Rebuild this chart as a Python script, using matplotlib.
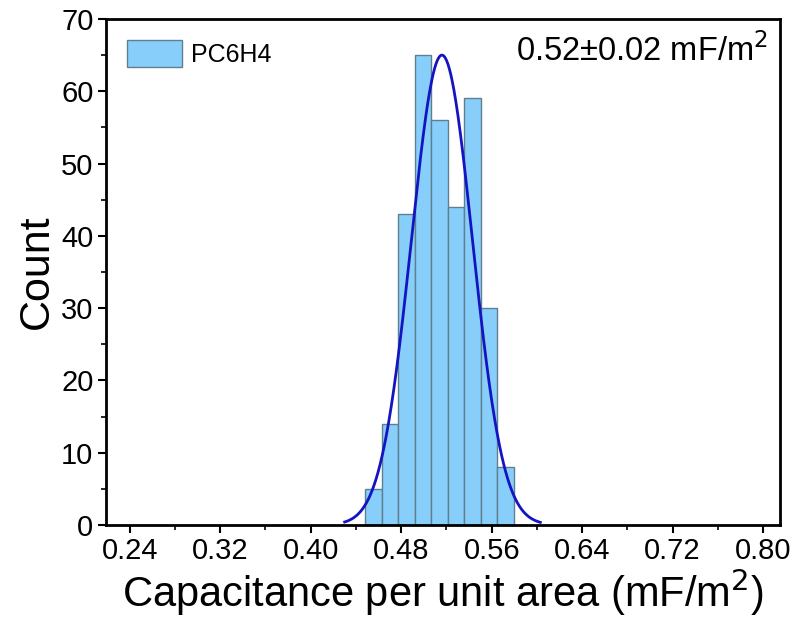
import numpy as np
import matplotlib.pyplot as plt
from matplotlib.ticker import MultipleLocator

plt.rcParams['font.family'] = ['Liberation Sans', 'DejaVu Sans']

# histogram bins (mF/m^2) and counts
bin_left = [0.448, 0.4626, 0.4772, 0.4918, 0.5064, 0.521, 0.5356, 0.5502, 0.5648]
counts = [5, 14, 43, 65, 56, 44, 59, 30, 8]
bin_width = 0.0146

# gaussian fit
fit_mean = 0.516
fit_sigma = 0.027
fit_peak = 65
fit_lo, fit_hi = 0.430, 0.603

xticks = [0.24, 0.32, 0.40, 0.48, 0.56, 0.64, 0.72, 0.80]
yticks = [0, 10, 20, 30, 40, 50, 60, 70]

fig = plt.figure(figsize=(7.95, 6.22), dpi=100)
ax = fig.add_axes([0.1333, 0.156, 0.848, 0.8135])

ax.bar(bin_left, counts, width=bin_width, align='edge', color='#87CEFA',
       edgecolor='#5f7f8f', linewidth=1.0, label='PC6H4', zorder=2)

xf = np.linspace(fit_lo, fit_hi, 300)
yf = fit_peak * np.exp(-0.5 * ((xf - fit_mean) / fit_sigma) ** 2)
ax.plot(xf, yf, color='#1414C0', lw=2, zorder=3)

ax.set_xlim(0.219, 0.815)
ax.set_ylim(0, 70)
ax.set_xticks(xticks)
ax.set_xticklabels(['%.2f' % v for v in xticks])
ax.set_yticks(yticks)
ax.xaxis.set_minor_locator(MultipleLocator(0.04))
ax.yaxis.set_minor_locator(MultipleLocator(5))
ax.tick_params(which='major', direction='out', length=6, width=1.5,
               labelsize=21, pad=3)
ax.tick_params(which='minor', direction='out', length=3.5, width=1.2)
for s in ax.spines.values():
    s.set_linewidth(2)

ax.set_xlabel('Capacitance per unit area (mF/m$^2$)', fontsize=30, labelpad=1)
ax.set_ylabel('Count', fontsize=31, labelpad=3)

ax.legend(loc='upper left', bbox_to_anchor=(0.031, 0.958), frameon=False,
          fontsize=18, handlelength=2.2, handleheight=1.3, handletextpad=0.35,
          borderpad=0, borderaxespad=0)
ax.text(0.982, 0.972, '0.52±0.02 mF/m$^2$', transform=ax.transAxes,
        ha='right', va='top', fontsize=23.5)

fig.savefig('out.png', dpi=100)
